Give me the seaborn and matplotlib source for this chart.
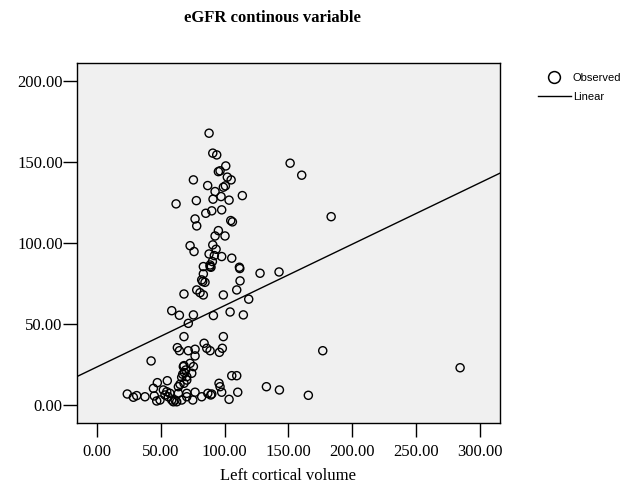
import numpy as np
import pandas as pd
from matplotlib import pyplot as plt
import seaborn as sns

# Left cortical volume (x) and eGFR (y)
left_cortical_volume = [
    87.7, 90.6, 93.7, 100.8, 95.0, 96.3, 102.0, 105.0, 75.4, 86.6,
    98.9, 100.5, 92.4, 113.8, 97.1, 90.8, 103.4, 77.7, 61.8, 151.3,
    160.4, 183.5, 85.1, 89.8, 97.6, 76.7, 78.0, 104.7, 106.0, 95.0,
    92.4, 100.2, 72.8, 75.9, 90.6, 93.2, 87.7, 97.6, 91.8, 105.5,
    90.3, 83.2, 88.5, 111.5, 111.8, 83.2, 81.9, 84.5, 82.7, 112.0,
    78.0, 80.6, 83.2, 98.9, 109.4, 127.7, 142.6, 118.8, 68.0, 58.4,
    64.4, 75.4, 71.4, 91.1, 104.2, 114.6, 98.9, 68.0, 83.8, 85.9,
    88.5, 95.8, 98.1, 76.7, 76.7, 62.8, 64.4, 71.4, 42.2, 176.9,
    72.8, 75.4, 68.0, 74.1, 67.0, 68.3, 105.5, 109.4, 70.2, 68.0,
    64.9, 95.5, 96.3, 97.6, 47.1, 54.9, 44.0, 51.8, 54.5, 63.6,
    70.2, 76.7, 81.9, 89.8, 89.0, 110.2, 103.4, 132.7, 142.9, 165.6,
    284.7, 74.9, 23.5, 28.3, 30.9, 37.4, 44.7, 46.6, 49.2, 53.1,
    55.7, 58.4, 59.7, 61.0, 62.3, 57.0, 66.2, 70.2, 86.7, 69.4,
    70.2, 66.2, 63.6, 67.5, 88.5, 89.2,
]
egfr = [
    167.5, 155.2, 154.1, 147.3, 143.8, 144.3, 140.4, 138.7, 138.7, 135.2,
    134.2, 135.0, 131.5, 129.0, 128.4, 126.8, 126.2, 125.9, 123.9, 149.0,
    141.6, 116.0, 118.1, 119.6, 120.2, 114.6, 110.3, 113.6, 112.8, 107.4,
    104.1, 104.1, 98.1, 94.5, 98.6, 95.9, 93.0, 91.4, 92.0, 90.4,
    88.3, 85.2, 85.2, 84.8, 84.0, 80.7, 77.0, 75.5, 76.0, 76.4,
    70.8, 69.1, 67.7, 67.7, 70.8, 81.1, 81.9, 65.1, 68.3, 58.0,
    55.2, 55.4, 50.2, 55.0, 57.2, 55.4, 42.0, 42.0, 37.9, 34.8,
    33.3, 32.3, 34.8, 34.2, 30.1, 35.2, 33.3, 33.3, 27.0, 33.3,
    25.5, 23.5, 24.1, 19.4, 18.8, 19.8, 17.9, 17.9, 15.2, 13.2,
    12.6, 13.2, 11.1, 7.7, 13.6, 14.8, 10.1, 9.1, 8.0, 11.1,
    7.0, 7.7, 4.9, 6.6, 6.0, 7.7, 3.3, 11.1, 9.1, 5.8,
    22.8, 2.9, 6.6, 4.6, 5.6, 4.9, 5.4, 2.3, 2.9, 6.0,
    4.9, 2.9, 1.8, 2.9, 1.8, 7.0, 2.9, 4.9, 7.0, 21.4,
    17.3, 16.9, 7.0, 23.5, 86.2, 84.8,
]

# linear fit line as drawn in the chart
fit_intercept = 23.4
fit_slope = 0.378

x_ticks = [0, 50, 100, 150, 200, 250, 300]
y_ticks = [0, 50, 100, 150, 200]

df = pd.DataFrame({"Left cortical volume": left_cortical_volume, "eGFR": egfr})

fig = plt.figure(figsize=(6.26, 4.86), dpi=100)
ax = fig.add_axes([0.1225, 0.1296, 0.6762, 0.7414])
ax.set_facecolor("#f0f0f0")

sns.scatterplot(data=df, x="Left cortical volume", y="eGFR", ax=ax,
                facecolor="none", edgecolor="black", s=34, linewidth=1.0)
ax.axline((0, fit_intercept), slope=fit_slope, color="black", linewidth=1.0)

ax.set_xlim(-16.2, 316)
ax.set_ylim(-11.3, 211)
ax.set_xticks(x_ticks)
ax.set_yticks(y_ticks)
ax.set_xticklabels([f"{t:.2f}" for t in x_ticks], family="Liberation Serif", fontsize=12)
ax.set_yticklabels([f"{t:.2f}" for t in y_ticks], family="Liberation Serif", fontsize=12)
ax.tick_params(axis="both", direction="out", length=10, width=1, color="black")
ax.tick_params(axis="y", pad=0)
ax.tick_params(axis="x", pad=5)
for sp in ax.spines.values():
    sp.set_color("black")
    sp.set_linewidth(1)

ax.set_xlabel("Left cortical volume", family="Liberation Serif", fontsize=12, labelpad=6)
ax.set_ylabel("")

fig.text(0.4345, 0.963, "eGFR continous variable", ha="center", va="center",
         family="Liberation Serif", fontweight="bold", fontsize=12)

# legend
obs = plt.Line2D([], [], marker="o", linestyle="none", markerfacecolor="none",
                 markeredgecolor="black", markersize=8.5, markeredgewidth=1.1)
lin = plt.Line2D([], [], color="black", linewidth=1)
fig.legend([obs, lin], ["Observed", "Linear"], loc="upper left",
           bbox_to_anchor=(0.85, 0.862), frameon=False,
           prop={"family": "Liberation Sans", "size": 8},
           handlelength=3.0, handletextpad=0.15, labelspacing=0.85, borderpad=0)

fig.savefig("out.png", dpi=100)
